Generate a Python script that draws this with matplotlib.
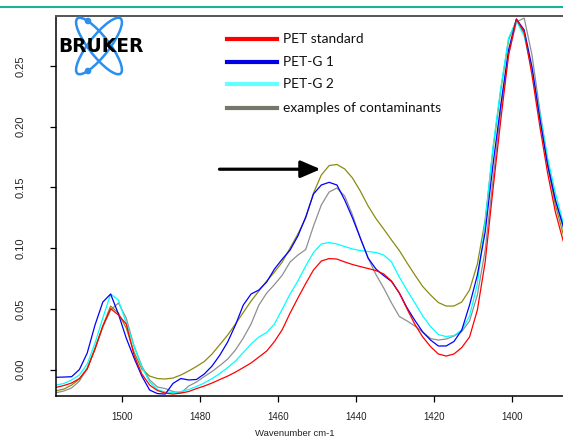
import matplotlib
matplotlib.use("Agg")
import matplotlib.pyplot as plt
from matplotlib.lines import Line2D
from matplotlib.patches import Ellipse, Circle

# wavenumber grid (cm-1), shared by all spectra
wavenumber = list(range(1517, 1384, -2))

pet_standard = [
    -0.0147, -0.0132, -0.0111, -0.0074, 0.0004, 0.0169, 0.0358, 0.0502, 0.0449, 0.0375,
    0.0119, -0.0037, -0.0128, -0.0173, -0.0194, -0.0202, -0.0194, -0.0181, -0.0157, -0.0136,
    -0.0111, -0.0082, -0.0054, -0.0021, 0.0016, 0.0054, 0.0103, 0.0152, 0.0231, 0.0329,
    0.0465, 0.0589, 0.0708, 0.0820, 0.0894, 0.0914, 0.0910, 0.0886, 0.0865, 0.0848,
    0.0832, 0.0815, 0.0787, 0.0729, 0.0630, 0.0498, 0.0371, 0.0268, 0.0189, 0.0128,
    0.0111, 0.0128, 0.0181, 0.0268, 0.0490, 0.0886, 0.1483, 0.2055, 0.2591, 0.2887,
    0.2780, 0.2426, 0.2005, 0.1619, 0.1297, 0.1059, 0.0900,
]
petg_1 = [
    -0.0064, -0.0062, -0.0059, 0.0000, 0.0136, 0.0367, 0.0556, 0.0622, 0.0457, 0.0259,
    0.0095, -0.0054, -0.0169, -0.0198, -0.0202, -0.0114, -0.0074, -0.0086, -0.0082, -0.0037,
    0.0029, 0.0119, 0.0227, 0.0367, 0.0531, 0.0622, 0.0655, 0.0721, 0.0828, 0.0910,
    0.0984, 0.1100, 0.1256, 0.1446, 0.1520, 0.1542, 0.1520, 0.1396, 0.1248, 0.1083,
    0.0918, 0.0828, 0.0774, 0.0725, 0.0630, 0.0507, 0.0404, 0.0309, 0.0243, 0.0194,
    0.0194, 0.0231, 0.0325, 0.0531, 0.0778, 0.1133, 0.1685, 0.2179, 0.2632, 0.2887,
    0.2797, 0.2492, 0.2071, 0.1685, 0.1396, 0.1182, 0.1026,
]
petg_2 = [
    -0.0128, -0.0115, -0.0086, -0.0045, 0.0045, 0.0218, 0.0424, 0.0622, 0.0572, 0.0383,
    0.0194, 0.0021, -0.0103, -0.0165, -0.0185, -0.0189, -0.0181, -0.0165, -0.0140, -0.0111,
    -0.0074, -0.0033, 0.0016, 0.0070, 0.0140, 0.0210, 0.0268, 0.0305, 0.0375, 0.0498,
    0.0622, 0.0729, 0.0853, 0.0964, 0.1034, 0.1046, 0.1034, 0.1013, 0.0993, 0.0980,
    0.0972, 0.0964, 0.0943, 0.0886, 0.0762, 0.0651, 0.0548, 0.0441, 0.0354, 0.0288,
    0.0272, 0.0280, 0.0325, 0.0441, 0.0704, 0.1215, 0.1833, 0.2319, 0.2731, 0.2871,
    0.2747, 0.2467, 0.2113, 0.1742, 0.1454, 0.1207, 0.1026,
]
contaminant_a = [
    -0.0175, -0.0161, -0.0128, -0.0078, 0.0008, 0.0177, 0.0358, 0.0523, 0.0465, 0.0342,
    0.0144, 0.0004, -0.0054, -0.0074, -0.0078, -0.0070, -0.0045, -0.0012, 0.0025, 0.0066,
    0.0128, 0.0206, 0.0284, 0.0375, 0.0470, 0.0564, 0.0647, 0.0729, 0.0803, 0.0886,
    0.1001, 0.1116, 0.1248, 0.1454, 0.1602, 0.1680, 0.1689, 0.1652, 0.1577, 0.1470,
    0.1347, 0.1244, 0.1157, 0.1067, 0.0980, 0.0877, 0.0778, 0.0684, 0.0614, 0.0552,
    0.0523, 0.0523, 0.0556, 0.0655, 0.0869, 0.1231, 0.1808, 0.2302, 0.2714, 0.2879,
    0.2764, 0.2467, 0.2071, 0.1685, 0.1355, 0.1116, 0.0968,
]
contaminant_b = [
    -0.0191, -0.0177, -0.0152, -0.0095, 0.0012, 0.0169, 0.0350, 0.0490, 0.0548, 0.0424,
    0.0194, 0.0029, -0.0086, -0.0144, -0.0157, -0.0181, -0.0194, -0.0136, -0.0103, -0.0058,
    -0.0016, 0.0033, 0.0086, 0.0161, 0.0259, 0.0375, 0.0531, 0.0630, 0.0700, 0.0778,
    0.0886, 0.0943, 0.0988, 0.1182, 0.1355, 0.1462, 0.1495, 0.1429, 0.1273, 0.1083,
    0.0918, 0.0783, 0.0671, 0.0548, 0.0437, 0.0400, 0.0358, 0.0309, 0.0255, 0.0243,
    0.0251, 0.0276, 0.0313, 0.0400, 0.0614, 0.0984, 0.1560, 0.2137, 0.2591, 0.2862,
    0.2895, 0.2591, 0.2137, 0.1726, 0.1396, 0.1166, 0.1001,
]

legend_labels = ["PET standard", "PET-G 1", "PET-G 2", "examples of contaminants"]
legend_colors = ["#ff0000", "#0000e6", "#66ffff", "#76766a"]

x_ticks = [1500, 1480, 1460, 1440, 1420, 1400]
y_ticks = [0.00, 0.05, 0.10, 0.15, 0.20, 0.25]

W, H = 563, 438


def fx(px):
    return px / W


def fy(py):
    return 1 - py / H


fig = plt.figure(figsize=(W / 100, H / 100), dpi=100)

# teal rule at the top of the slide
fig.add_artist(Line2D([0, 1], [fy(7.3), fy(7.3)], color="#17b499", lw=1.5))

ax = fig.add_axes([fx(56), fy(396), fx(571) - fx(56), fy(16) - fy(396)])

ax.plot(wavenumber, contaminant_b, color="#8f8f8f", lw=0.9)
ax.plot(wavenumber, contaminant_a, color="#8b8b10", lw=0.9)
ax.plot(wavenumber, petg_2, color="#00ffff", lw=0.9)
ax.plot(wavenumber, petg_1, color="#0000ff", lw=0.9)
ax.plot(wavenumber, pet_standard, color="#ff0000", lw=0.9)

ax.set_xlim(1517, 1385)
ax.set_ylim(-0.0218, 0.2912)
ax.set_xticks(x_ticks)
ax.set_xticklabels([str(t) for t in x_ticks])
ax.set_yticks(y_ticks)
ax.set_yticklabels([f"{t:.2f}" for t in y_ticks], rotation=90, va="center")

for lab in ax.get_xticklabels():
    lab.set_family("Liberation Sans")
    lab.set_fontsize(7)
    lab.set_color("#222222")
for lab in ax.get_yticklabels():
    lab.set_family("Liberation Sans")
    lab.set_fontsize(8)
    lab.set_color("#222222")
ax.tick_params(axis="x", length=4, width=0.9, pad=7.5)
ax.tick_params(axis="y", length=4, width=0.9, pad=18)

ax.spines["right"].set_visible(False)
ax.spines["top"].set_color("#555555")
ax.spines["top"].set_linewidth(1.4)
ax.spines["left"].set_linewidth(1.1)
ax.spines["bottom"].set_linewidth(1.1)

fig.text(fx(295), fy(428.5), "Wavenumber cm-1", ha="center", va="top",
         family="Liberation Sans", fontsize=6.8, color="#222222")

# arrow pointing at the contaminant band
ax.annotate("", xy=(1449.2, 0.165), xytext=(1475.1, 0.165),
            arrowprops=dict(arrowstyle="-|>,head_length=0.6,head_width=0.26",
                            mutation_scale=20, lw=2.3, color="black",
                            shrinkA=0, shrinkB=0))

# legend drawn by hand, as on the slide
rows = [39, 61.7, 84.3, 107.7]
for label, color, row in zip(legend_labels, legend_colors, rows):
    fig.add_artist(Line2D([fx(227), fx(277)], [fy(row), fy(row)], color=color, lw=3))
    fig.text(fx(283), fy(row), label, va="center", ha="left",
             family="Lato", fontsize=9.9, color="#111111")

# Bruker logo
logo = fig.add_axes([fx(56), fy(80), fx(150) - fx(56), fy(16) - fy(80)])
logo.set_xlim(56, 150)
logo.set_ylim(80, 16)
logo.axis("off")
for ang in (52, -52):
    logo.add_patch(Ellipse((99, 46), 70, 20, angle=ang, fill=False,
                           edgecolor="#2b8ff0", lw=1.8))
for cy in (21, 71):
    logo.add_patch(Circle((88, cy), 2.6, color="#2b8ff0"))
logo.text(101, 47, "BRUKER", ha="center", va="center", family="DejaVu Sans",
          fontweight="bold", fontsize=13.4, color="black")

fig.savefig("out.png", dpi=100)
